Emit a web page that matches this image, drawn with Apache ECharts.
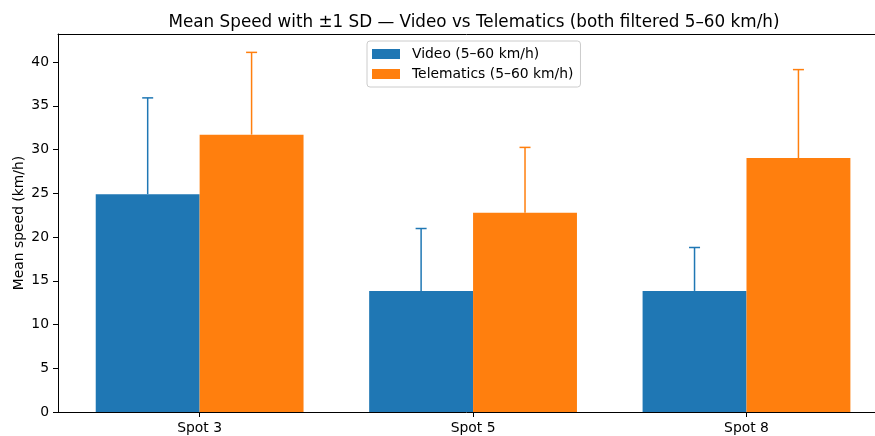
<!DOCTYPE html>
<html><head><meta charset="utf-8">
<script src="https://cdn.jsdelivr.net/npm/echarts@6/dist/echarts.min.js"></script>
<style>html,body{margin:0;padding:0;background:#fff}#c{width:875px;height:436px}</style>
</head><body><div id="c"></div>
<script>
const categories = ['Spot 3', 'Spot 5', 'Spot 8'];
const videoMean = [24.9, 13.84, 13.84];
const videoSD = [11.0, 7.13, 4.96];
const teleMean = [31.7, 22.77, 29.03];
const teleSD = [9.4, 7.47, 10.1];
const yTicks = [0, 5, 10, 15, 20, 25, 30, 35, 40];
const seriesNames = ['Video (5–60 km/h)', 'Telematics (5–60 km/h)'];
const colors = ['#1f77b4', '#ff7f0e'];
const W = 0.38;
const FONT = 'DejaVu Sans';

const chart = echarts.init(document.getElementById('c'), null, {renderer: 'canvas'});

function barRender(offset, color) {
  return function (params, api) {
    const i = api.value(0), v = api.value(1);
    const p0 = api.coord([i + offset - W / 2, v]);
    const p1 = api.coord([i + offset + W / 2, 0]);
    return {type: 'rect', shape: {x: p0[0], y: p0[1], width: p1[0] - p0[0], height: p1[1] - p0[1]},
      style: {fill: color}};
  };
}
function errRender(offset, color) {
  return function (params, api) {
    const i = api.value(0), m = api.value(1), s = api.value(2);
    const a = api.coord([i + offset, m]);
    const b = api.coord([i + offset, m + s]);
    return {type: 'group', children: [
      {type: 'line', shape: {x1: a[0], y1: a[1], x2: b[0], y2: b[1]}, style: {stroke: color, lineWidth: 1.5}},
      {type: 'line', shape: {x1: b[0] - 5.5, y1: b[1], x2: b[0] + 5.5, y2: b[1]}, style: {stroke: color, lineWidth: 1.5}}
    ]};
  };
}
const vData = categories.map((c, i) => [i, videoMean[i], videoSD[i]]);
const tData = categories.map((c, i) => [i, teleMean[i], teleSD[i]]);
const XMIN = -0.518, XMAX = 2.47;

chart.setOption({
  animation: false,
  title: {text: 'Mean Speed with ±1 SD — Video vs Telematics (both filtered 5–60 km/h)',
    left: 469, top: 9, textAlign: 'center',
    textStyle: {fontFamily: FONT, fontSize: 16.8, fontWeight: 'normal', color: '#000'}},
  legend: {orient: 'vertical', left: 367, top: 41, data: seriesNames,
    itemWidth: 28, itemHeight: 10, itemGap: 6, icon: 'rect',
    padding: [6, 7, 6, 5], borderColor: '#cccccc', borderWidth: 1, borderRadius: 3, backgroundColor: '#fff',
    textStyle: {fontFamily: FONT, fontSize: 13.9, lineHeight: 14, color: '#000', padding: [0, 0, 0, 7]}},
  grid: {left: 58, top: 34, right: 0, bottom: 24, show: false, containLabel: false, outerBoundsMode: 'none'},
  xAxis: [{type: 'value', min: XMIN, max: XMAX,
    axisLine: {show: true, onZero: false, lineStyle: {color: '#000', width: 1}},
    axisTick: {show: true, length: 5, customValues: [0, 1, 2], lineStyle: {color: '#000'}},
    axisLabel: {customValues: [0, 1, 2], formatter: v => categories[Math.round(v)], margin: 9,
      fontFamily: FONT, fontSize: 13.9, color: '#000'},
    splitLine: {show: false}},
    {type: 'value', position: 'top', min: XMIN, max: XMAX,
    axisLine: {show: true, onZero: false, lineStyle: {color: '#000', width: 1}},
    axisTick: {show: false}, axisLabel: {show: false}, splitLine: {show: false}}],
  yAxis: {type: 'value', min: 0, max: 43.2,
    axisLine: {show: true, onZero: false, lineStyle: {color: '#000', width: 1}},
    axisTick: {show: true, length: 5, customValues: yTicks, lineStyle: {color: '#000'}},
    axisLabel: {customValues: yTicks, margin: 9, fontFamily: FONT, fontSize: 13.9, color: '#000'},
    splitLine: {show: false},
    name: 'Mean speed (km/h)', nameLocation: 'middle', nameGap: 32, nameRotate: 90, nameMoveOverlap: false,
    nameTextStyle: {fontFamily: FONT, fontSize: 13.9, color: '#000'}},
  series: [
    {name: seriesNames[0], type: 'custom', data: vData, renderItem: barRender(-W / 2, colors[0]), itemStyle: {color: colors[0]}, encode: {x: 0, y: 1}, z: 2},
    {name: seriesNames[1], type: 'custom', data: tData, renderItem: barRender(W / 2, colors[1]), itemStyle: {color: colors[1]}, encode: {x: 0, y: 1}, z: 2},
    {name: seriesNames[0], type: 'custom', data: vData, renderItem: errRender(-W / 2, colors[0]), itemStyle: {color: colors[0]}, encode: {x: 0, y: [1, 2]}, z: 3},
    {name: seriesNames[1], type: 'custom', data: tData, renderItem: errRender(W / 2, colors[1]), itemStyle: {color: colors[1]}, encode: {x: 0, y: [1, 2]}, z: 3}
  ]
});
</script></body></html>
